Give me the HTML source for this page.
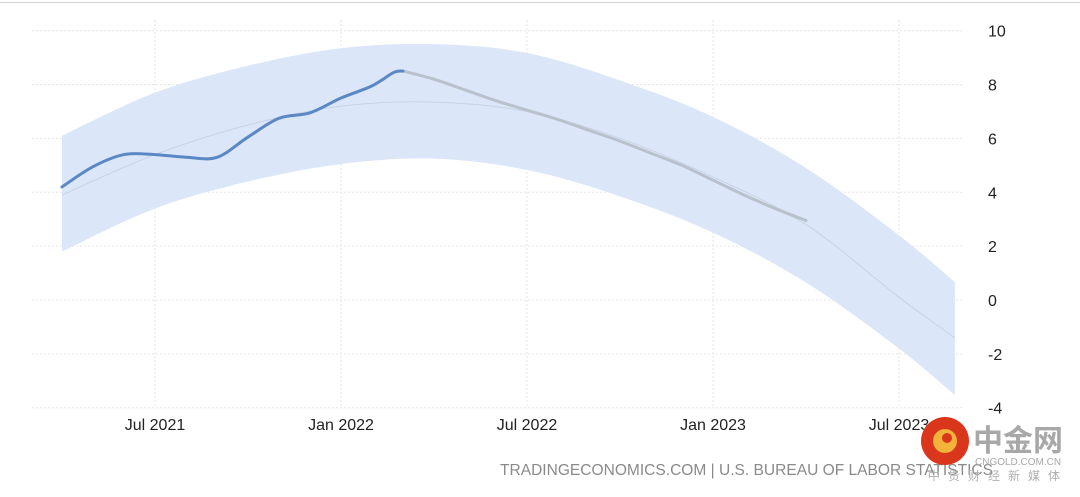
<!DOCTYPE html>
<html><head><meta charset="utf-8">
<style>
html,body{margin:0;padding:0;background:#fff;}
body{width:1080px;height:492px;overflow:hidden;font-family:"Liberation Sans","Noto Sans CJK SC",sans-serif;}
</style></head>
<body>
<svg id="chart" width="1080" height="492" xmlns="http://www.w3.org/2000/svg">
<line x1="0" y1="2.5" x2="1080" y2="2.5" stroke="#d8d8d8" stroke-width="1"/>
<g id="grid"></g>
<g id="band"></g>
<g id="lines"></g>
<g id="axes"></g>
<text x="500" y="475" font-size="16" fill="#8a8a8a" textLength="493" lengthAdjust="spacingAndGlyphs">TRADINGECONOMICS.COM | U.S. BUREAU OF LABOR STATISTICS</text>
<g>
<circle cx="945" cy="441" r="24" fill="#d9361c"/>
<circle cx="945" cy="441" r="12" fill="#f3b23a"/>
<circle cx="947" cy="438" r="5" fill="#d9361c"/>
<text x="973" y="451" font-size="30" font-weight="bold" fill="#a8a8a8" font-family="'Noto Sans CJK SC',sans-serif">中金网</text>
<text x="975" y="465" font-size="10" fill="#a8a8a8">CNGOLD.COM.CN</text>
<text x="928" y="480" font-size="12" fill="#b0b0b0" letter-spacing="8" font-family="'Noto Sans CJK SC',sans-serif">中贵财经新媒体</text>
</g>
</svg>
<script>
const actualMonths=[0,1,2,3,4,5,6,7,8,9,10,10.7,11];
const actualValues=[4.2,4.95,5.4,5.4,5.3,5.3,6.05,6.75,6.95,7.5,7.95,8.45,8.5];
const forecastMonths=[11,12,13,14,15,16,17,18,19,20,21,22,23,24];
const forecastValues=[8.5,8.2,7.8,7.4,7.05,6.7,6.3,5.9,5.45,5.0,4.45,3.9,3.4,2.95];
const bandMonths=[0,3,6,9,12,15,18,21,24,27,28.8];
const bandUpper=[6.1,7.7,8.7,9.35,9.5,9.17,8.15,6.8,4.9,2.4,0.67];
const bandMid=[3.9,5.4,6.5,7.2,7.35,7.0,6.0,4.57,2.8,0.1,-1.4];
const bandLower=[1.8,3.4,4.4,5.05,5.25,4.83,3.85,2.5,0.65,-1.8,-3.53];
const yTicks=[10,8,6,4,2,0,-2,-4];
const xTickMonths=[3,9,15,21,27];
const xTickLabels=["Jul 2021","Jan 2022","Jul 2022","Jan 2023","Jul 2023"];
const NS="http://www.w3.org/2000/svg";
const xs=m=>62+m*31;
const ys=v=>300-v*26.93;
function pts(ms,vs){return ms.map((m,i)=>[xs(m),ys(vs[i])]);}
function smooth(p){let d="M"+p[0][0]+","+p[0][1];for(let i=0;i<p.length-1;i++){const p0=p[i-1]||p[i],p1=p[i],p2=p[i+1],p3=p[i+2]||p2;
const c1=[p1[0]+(p2[0]-p0[0])/6,p1[1]+(p2[1]-p0[1])/6],c2=[p2[0]-(p3[0]-p1[0])/6,p2[1]-(p3[1]-p1[1])/6];
d+=" C"+c1[0]+","+c1[1]+" "+c2[0]+","+c2[1]+" "+p2[0]+","+p2[1];}return d;}
function mk(tag,attrs,parent){const e=document.createElementNS(NS,tag);for(const k in attrs)e.setAttribute(k,attrs[k]);document.getElementById(parent).appendChild(e);return e;}
yTicks.forEach(v=>{
const l=mk("line",{x1:32,x2:962,y1:ys(v),y2:ys(v),stroke:"#e6e6e6","stroke-dasharray":"2,2"},"grid");


const t=mk("text",{x:988,y:ys(v)+6,"font-size":16,fill:"#222"},"axes");t.textContent=v;


});
xTickMonths.forEach((m,i)=>{
const l=mk("line",{x1:xs(m),x2:xs(m),y1:20,y2:408,stroke:"#e6e6e6","stroke-dasharray":"2,2"},"grid");


const t=mk("text",{x:xs(m),y:430,"font-size":16,fill:"#222","text-anchor":"middle"},"axes");t.textContent=xTickLabels[i];


});
const up=pts(bandMonths,bandUpper),lo=pts(bandMonths,bandLower).reverse();
const upD=smooth(up),loD=smooth(lo).replace("M","L");
const band=mk("path",{d:upD+" "+loD+" Z",fill:"#dbe6f8"},"band");


const mid=mk("path",{d:smooth(pts(bandMonths,bandMid)),fill:"none",stroke:"#c9d3e3","stroke-width":1},"band");


const fc=mk("path",{d:smooth(pts(forecastMonths,forecastValues)),fill:"none",stroke:"#b9c1cd","stroke-width":3,"stroke-linecap":"round"},"lines");


const ac=mk("path",{d:smooth(pts(actualMonths,actualValues)),fill:"none",stroke:"#5a88c4","stroke-width":3,"stroke-linecap":"round"},"lines");


</script>
</body></html>
